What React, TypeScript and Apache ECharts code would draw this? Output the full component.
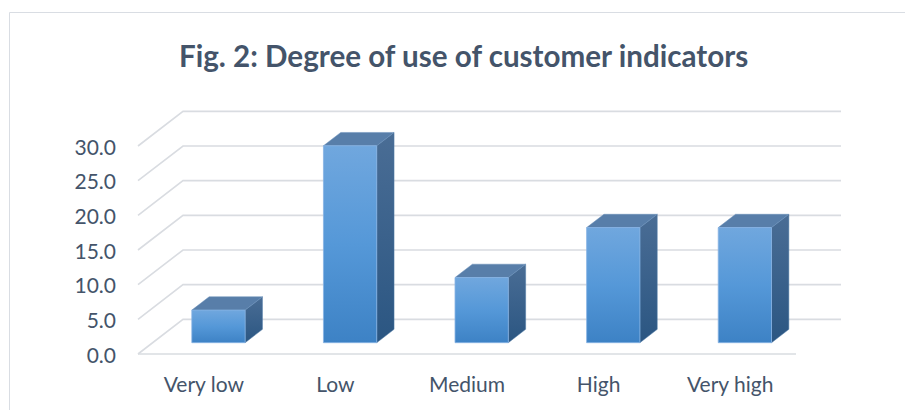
import React, { useEffect, useRef } from "react";
import * as echarts from "echarts";

const categories = ["Very low", "Low", "Medium", "High", "Very high"];
const values = [4.7, 28.4, 9.4, 16.6, 16.6];
const yTicks = [0, 5, 10, 15, 20, 25, 30];
const titleText = "Fig. 2: Degree of use of customer indicators";

const TEXT_COLOR = "#44546a";
const GRID_COLOR = "#d9dce1";
const FONT = "Lato, 'Open Sans', sans-serif";

// depth geometry as fractions of band width / one tick step
const WALL_DX = 0.342; // back wall x shift (fraction of category band)
const BAR_FRONT = 0.326; // bar front depth fraction
const BAR_DEPTH = 0.385; // bar depth fraction
const BAR_W = 0.405; // bar width fraction of band

export default function App() {
  const ref = useRef<HTMLDivElement>(null);
  useEffect(() => {
    if (!ref.current) return;
    const chart = echarts.init(ref.current, undefined, { renderer: "svg" });

    const frontGrad = new echarts.graphic.LinearGradient(0, 0, 0, 1, [
      { offset: 0, color: "#70a7de" },
      { offset: 0.5, color: "#5598d8" },
      { offset: 1, color: "#3d82c5" },
    ]);
    const sideGrad = new echarts.graphic.LinearGradient(0, 0, 0, 1, [
      { offset: 0, color: "#4a6d95" },
      { offset: 1, color: "#2b5682" },
    ]);

    const option: any = {
      animation: false,
      backgroundColor: "#ffffff",
      title: {
        text: titleText,
        left: 174,
        top: 35,
        textStyle: {
          fontFamily: FONT,
          fontWeight: "bold",
          fontSize: 29.6,
          color: TEXT_COLOR,
        },
      },
      graphic: [
        {
          type: "rect",
          shape: { x: 9.5, y: 12.5, width: 1000, height: 1000 },
          style: { fill: "none", stroke: "#d9dde3", lineWidth: 1 },
          silent: true,
          z: -10,
        },
      ],
      grid: { left: 138, right: 109, top: 146, bottom: 56 },
      xAxis: {
        type: "category",
        data: categories,
        axisLine: { show: false },
        axisTick: { show: false },
        splitLine: { show: false },
        axisLabel: {
          margin: 19,
          color: TEXT_COLOR,
          fontFamily: FONT,
          fontSize: 21,
        },
      },
      yAxis: {
        type: "value",
        min: 0,
        max: 30,
        interval: 5,
        axisLine: { show: false },
        axisTick: { show: false },
        splitLine: { show: false },
        axisLabel: {
          margin: 22,
          color: TEXT_COLOR,
          fontFamily: FONT,
          fontSize: 21,
          formatter: (v: number) => v.toFixed(1),
        },
      },
      series: [
        {
          type: "custom",
          z: 1,
          silent: true,
          data: yTicks.map((v) => [0, v]),
          renderItem: (params: any, api: any) => {
            const v = api.value(1);
            const cs = params.coordSys;
            const y = api.coord([0, v])[1];
            const sz = api.size([1, 5]);
            const dx = sz[0] * WALL_DX;
            const dy = sz[1];
            const style = { stroke: GRID_COLOR, lineWidth: 1.6, fill: "none" };
            const children: any[] = [
              {
                type: "polyline",
                shape: {
                  points: [
                    [cs.x, y],
                    [cs.x + dx, y - dy],
                    [cs.x + cs.width + dx, y - dy],
                  ],
                },
                style,
              },
            ];
            if (v === 0) {
              children.push({
                type: "line",
                shape: { x1: cs.x, y1: y, x2: cs.x + cs.width, y2: y },
                style,
              });
            }
            return { type: "group", children };
          },
        },
        {
          type: "custom",
          z: 2,
          data: values.map((v, i) => [i, v]),
          renderItem: (params: any, api: any) => {
            const i = api.value(0);
            const v = api.value(1);
            const top = api.coord([i, v]);
            const base = api.coord([i, 0]);
            const sz = api.size([1, 5]);
            const band = sz[0];
            const dxFull = band * WALL_DX;
            const dyFull = sz[1];
            const w = band * BAR_W;
            const x0 = top[0] - w / 2 + dxFull * BAR_FRONT;
            const yTop = top[1] - dyFull * BAR_FRONT;
            const yBot = base[1] - dyFull * BAR_FRONT;
            const bx = dxFull * BAR_DEPTH;
            const by = dyFull * BAR_DEPTH;
            return {
              type: "group",
              children: [
                {
                  type: "polygon",
                  shape: {
                    points: [
                      [x0 + w, yTop],
                      [x0 + w + bx, yTop - by],
                      [x0 + w + bx, yBot - by],
                      [x0 + w, yBot],
                    ],
                  },
                  style: { fill: sideGrad, stroke: "#4f7aa6", lineWidth: 0.5 },
                },
                {
                  type: "polygon",
                  shape: {
                    points: [
                      [x0, yTop],
                      [x0 + w, yTop],
                      [x0 + w + bx, yTop - by],
                      [x0 + bx, yTop - by],
                    ],
                  },
                  style: { fill: "#587ea9", stroke: "#6b90ba", lineWidth: 0.5 },
                },
                {
                  type: "rect",
                  shape: { x: x0, y: yTop, width: w, height: yBot - yTop },
                  style: { fill: frontGrad, stroke: "#86b3e3", lineWidth: 0.8 },
                },
              ],
            };
          },
        },
      ],
    };
    chart.setOption(option);
    return () => chart.dispose();
  }, []);

  return (
    <div
      ref={ref}
      style={{ position: "fixed", left: 0, top: 0, width: 905, height: 410 }}
    />
  );
}
